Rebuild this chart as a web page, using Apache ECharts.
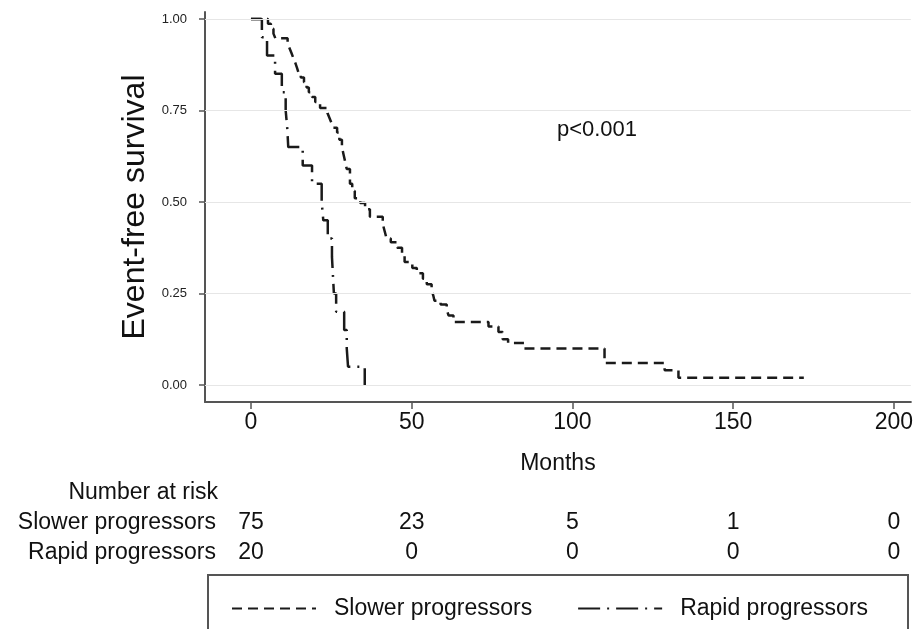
<!DOCTYPE html>
<html>
<head>
<meta charset="utf-8">
<script src="https://cdn.jsdelivr.net/npm/echarts@6/dist/echarts.min.js"></script>
<style>
html,body{margin:0;padding:0;background:#fff;}
#chart{width:916px;height:629px;}
</style>
</head>
<body>
<div id="chart"></div>
<script>
// ---- data ----
var slowerMonths = [0, 5.3, 6.2, 7, 7.6, 11.4, 12, 12.6, 13.2, 13.8, 14.3, 14.8, 15.5, 16.5, 17.3, 18, 19, 20, 21.5, 23.8, 24.4, 25, 25.6, 26.8, 27.5, 28.3, 28.8, 29.3, 29.8, 30.8, 31.5, 32.3, 34, 35.5, 37, 41, 41.6, 42.2, 43.5, 45.5, 47, 47.8, 50.2, 51.6, 53.5, 54.7, 56.2, 56.7, 57.1, 59, 60.9, 61.5, 63, 73.9, 77, 78.3, 80, 85, 110, 128.7, 133, 172];
var slowerSurv = [1.0, 0.987, 0.973, 0.96, 0.947, 0.933, 0.92, 0.907, 0.893, 0.88, 0.867, 0.853, 0.84, 0.827, 0.813, 0.80, 0.787, 0.773, 0.757, 0.743, 0.73, 0.717, 0.703, 0.69, 0.67, 0.65, 0.63, 0.61, 0.59, 0.55, 0.53, 0.51, 0.497, 0.48, 0.46, 0.44, 0.42, 0.40, 0.39, 0.375, 0.355, 0.336, 0.32, 0.305, 0.29, 0.275, 0.26, 0.245, 0.23, 0.22, 0.205, 0.19, 0.172, 0.16, 0.145, 0.125, 0.115, 0.10, 0.06, 0.04, 0.02, 0.02];
var rapidMonths = [0, 3.4, 5, 7.5, 9.6, 10.8, 11.3, 11.6, 16.1, 19, 22, 22.5, 23.9, 25.2, 25.5, 25.8, 26.5, 29, 29.8, 30.2, 35.4];
var rapidSurv = [1.0, 0.95, 0.90, 0.85, 0.80, 0.75, 0.70, 0.65, 0.60, 0.55, 0.50, 0.45, 0.40, 0.35, 0.30, 0.25, 0.20, 0.15, 0.10, 0.05, 0.00];

var xTicks = [0, 50, 100, 150, 200];
var yTicks = [0, 0.25, 0.5, 0.75, 1.0];
var riskTimes = [0, 50, 100, 150, 200];
var slowerAtRisk = [75, 23, 5, 1, 0];
var rapidAtRisk = [20, 0, 0, 0, 0];
var groupNames = ['Slower progressors', 'Rapid progressors'];

function pairs(xs, ys) { return xs.map(function (x, i) { return [x, ys[i]]; }); }

var FONT = '"Liberation Sans", Arial, sans-serif';
var INK = '#1a1a1a';
var chart = echarts.init(document.getElementById('chart'), null, { renderer: 'canvas' });

var option = {
  animation: false,
  backgroundColor: '#fff',
  color: [INK, INK],
  grid: { left: 205, right: 4, top: 12, bottom: 227, containLabel: false },
  xAxis: {
    type: 'value', min: -14.3, max: 205.3,
    name: 'Months', nameLocation: 'middle', nameGap: 50,
    nameTextStyle: { fontFamily: FONT, fontSize: 23, color: '#111' },
    axisLine: { show: true, onZero: false, lineStyle: { color: '#555', width: 2 } },
    axisTick: { show: true, length: 7, customValues: xTicks, lineStyle: { color: '#555', width: 1.5 } },
    axisLabel: { customValues: xTicks, margin: 9, fontFamily: FONT, fontSize: 23, color: '#111' },
    splitLine: { show: false }
  },
  yAxis: {
    type: 'value', min: -0.0464, max: 1.019,
    name: 'Event-free survival', nameLocation: 'middle', nameGap: 49,
    nameTextStyle: { fontFamily: FONT, fontSize: 32, color: '#111' },
    axisLine: { show: true, onZero: false, lineStyle: { color: '#555', width: 2 } },
    axisTick: { show: true, length: 6, customValues: yTicks, lineStyle: { color: '#555', width: 1.5 } },
    axisLabel: { customValues: yTicks, margin: 18, fontFamily: FONT, fontSize: 13, color: '#222',
      formatter: function (v) { return v.toFixed(2); } },
    splitLine: { show: false }
  },
  legend: {
    left: 226, top: 592, itemWidth: 84, itemHeight: 14, itemGap: 45,
    itemStyle: { opacity: 0 },
    textStyle: { fontFamily: FONT, fontSize: 23, color: '#111', padding: [0, 0, 0, 13] },
    data: groupNames
  },
  series: [
    {
      name: groupNames[0], type: 'line', step: 'end', symbol: 'none', silent: true,
      data: pairs(slowerMonths, slowerSurv),
      itemStyle: { color: INK },
      lineStyle: { color: INK, width: 2.5, type: [10, 6] },
      markLine: {
        silent: true, symbol: 'none', label: { show: false },
        lineStyle: { color: '#e6e6e6', width: 1, type: 'solid' },
        data: yTicks.map(function (v) { return { yAxis: v }; })
      },
      z: 3
    },
    {
      name: groupNames[1], type: 'line', step: 'end', symbol: 'none', silent: true,
      data: pairs(rapidMonths, rapidSurv),
      itemStyle: { color: INK },
      lineStyle: { color: INK, width: 2.5, type: [22, 7, 2, 7] },
      z: 3
    }
  ]
};
chart.setOption(option);

// number-at-risk table and annotations placed through the x scale
var graphics = [];
function txt(x, y, s, align, size) {
  graphics.push({ type: 'text', x: x, y: y, silent: true,
    style: { text: s, fontFamily: FONT, fontSize: size || 23, fill: '#111', align: align, verticalAlign: 'middle' } });
}
txt(218, 493, 'Number at risk', 'right');
txt(216, 523, groupNames[0], 'right');
txt(216, 553, groupNames[1], 'right');
riskTimes.forEach(function (t, i) {
  var px = chart.convertToPixel({ xAxisIndex: 0 }, t);
  txt(px, 523, String(slowerAtRisk[i]), 'center');
  txt(px, 553, String(rapidAtRisk[i]), 'center');
});
txt(597, 130, 'p<0.001', 'center', 22);
graphics.push({ type: 'rect', silent: true, shape: { x: 208, y: 575, width: 700, height: 80 },
  style: { fill: 'none', stroke: '#555', lineWidth: 2 } });
chart.setOption({ graphic: graphics });
</script>
</body>
</html>
